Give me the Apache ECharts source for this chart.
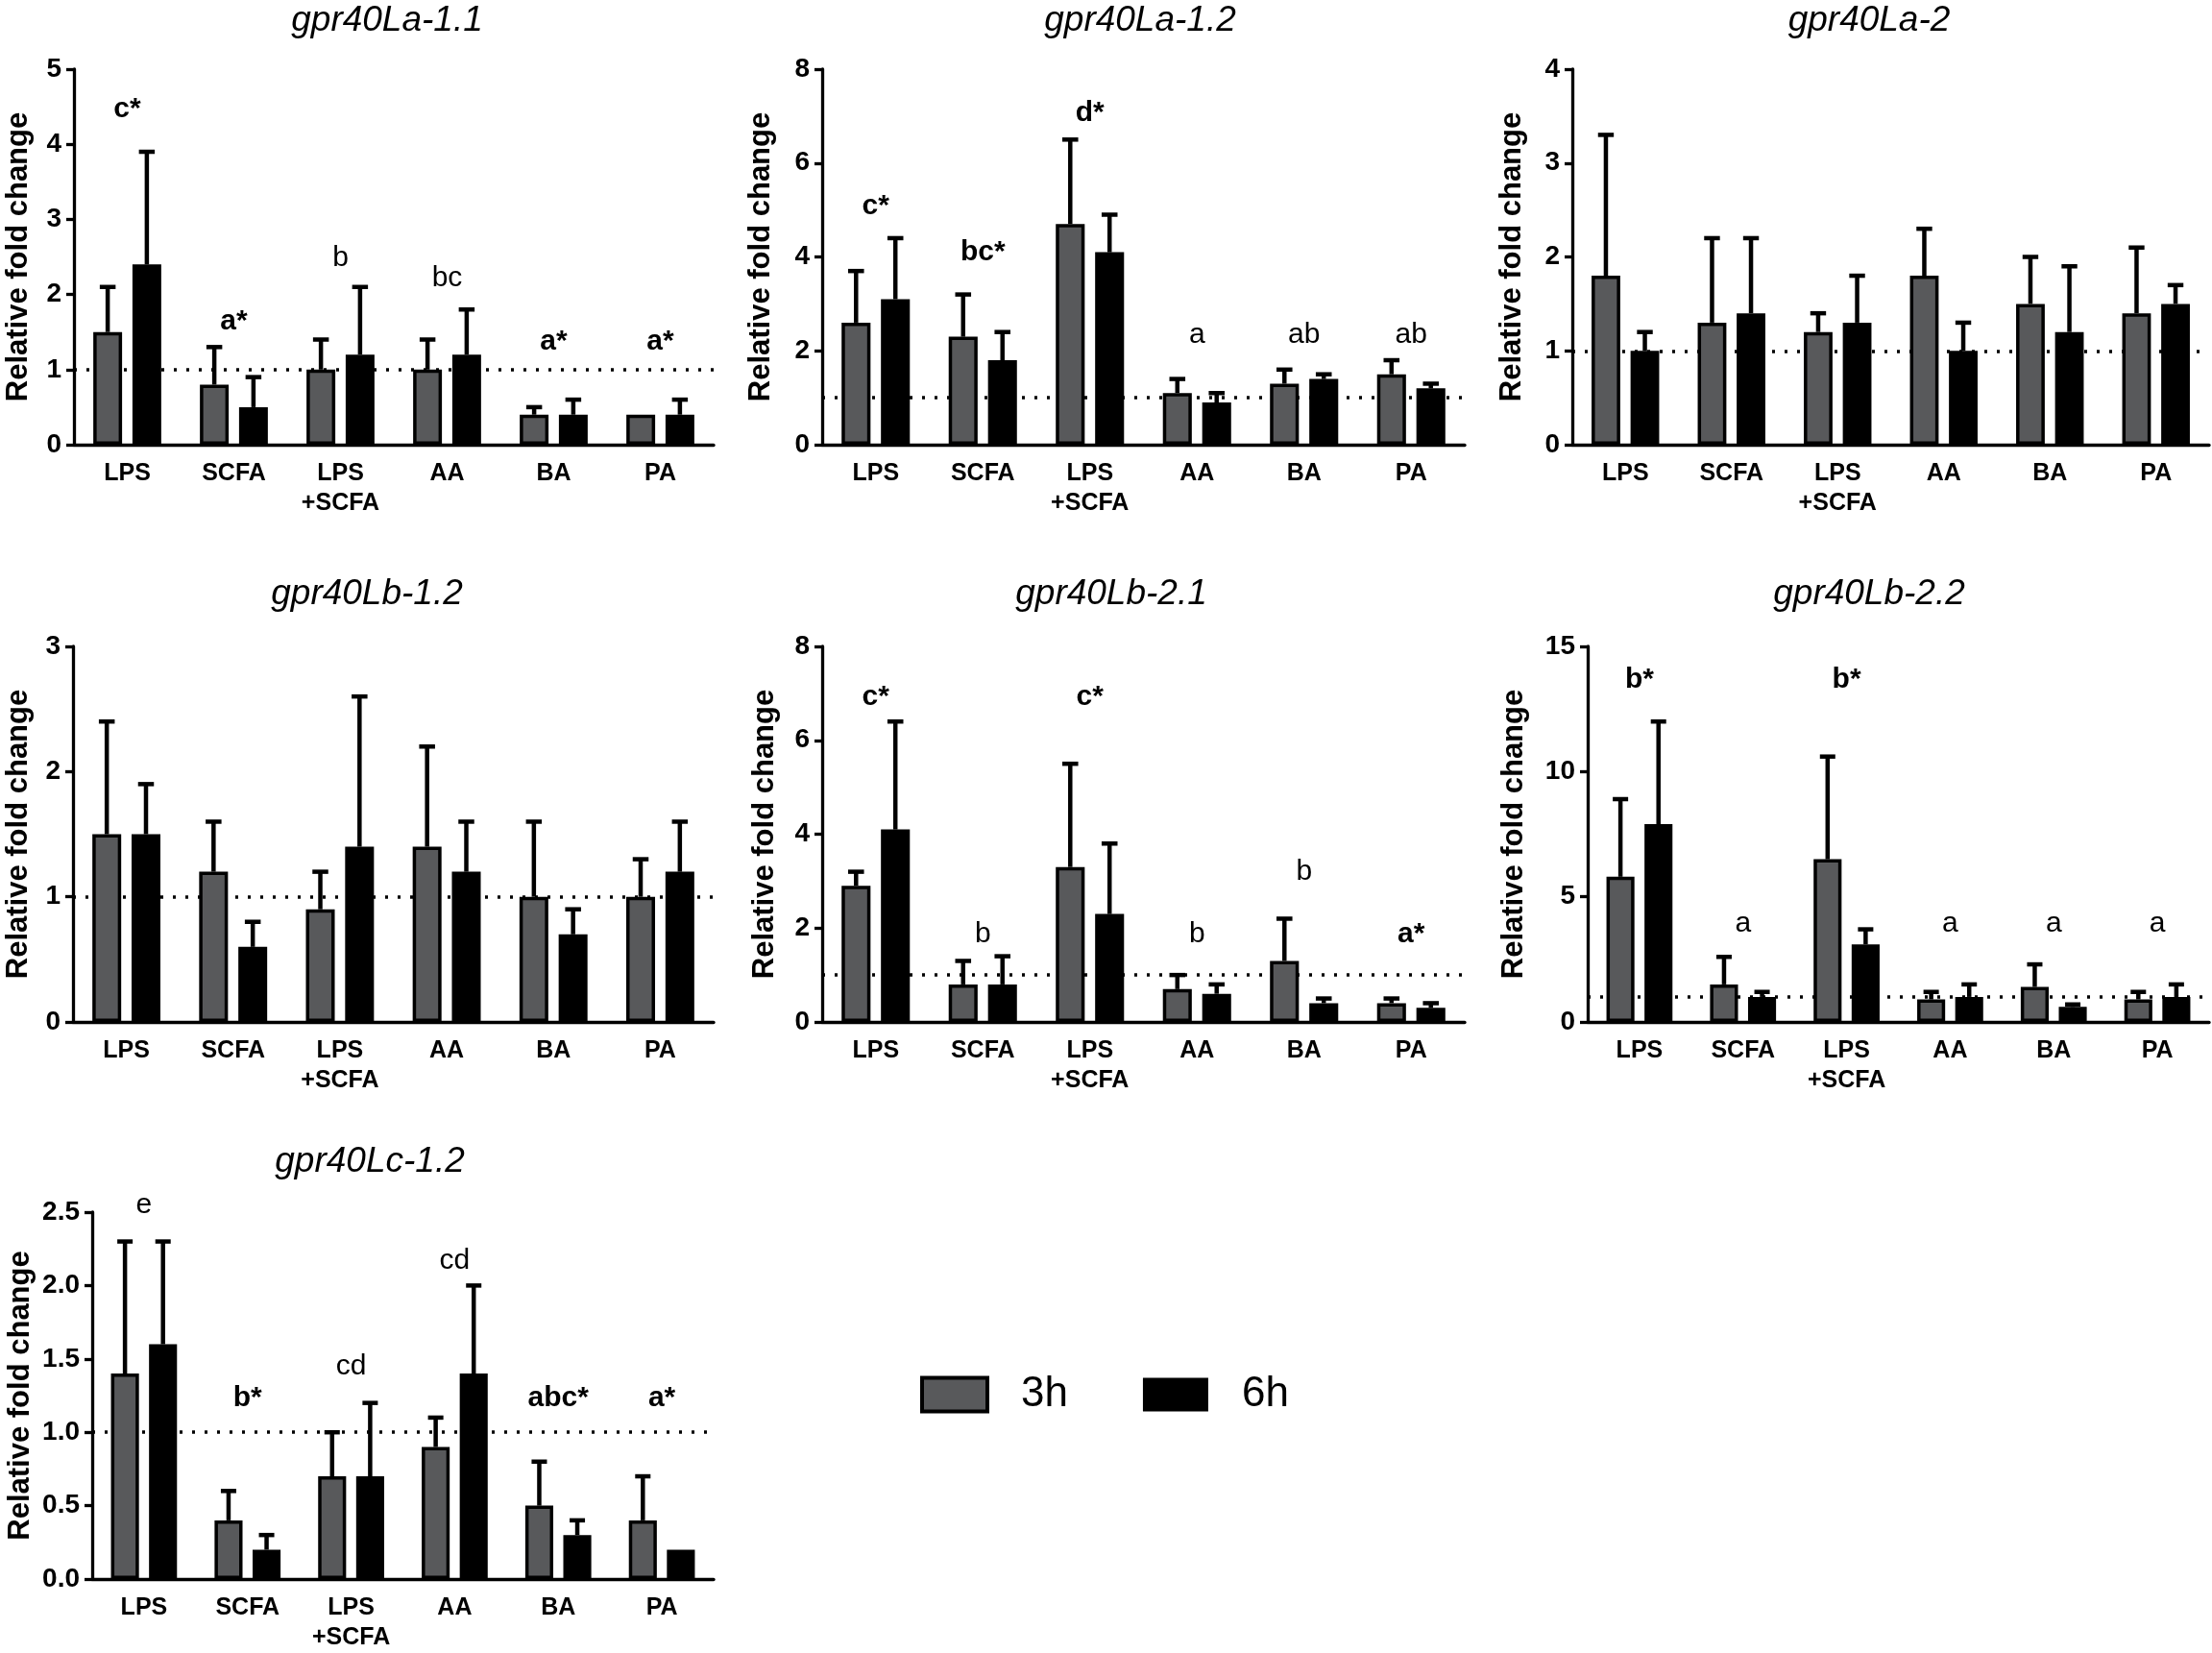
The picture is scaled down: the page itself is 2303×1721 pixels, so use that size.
<!DOCTYPE html>
<html>
<head>
<meta charset="utf-8">
<script src="https://cdn.jsdelivr.net/npm/echarts@6/dist/echarts.min.js"></script>
<style>html,body{margin:0;padding:0;background:#fff}#c{width:2303px;height:1721px}</style>
</head>
<body>
<div id="c"></div>
<script>
// ---------- DATA ----------
const categories = ['LPS', 'SCFA', 'LPS\n+SCFA', 'AA', 'BA', 'PA'];
const seriesNames = ['3h', '6h'];
const panelTitles = ['gpr40La-1.1', 'gpr40La-1.2', 'gpr40La-2', 'gpr40Lb-1.2', 'gpr40Lb-2.1', 'gpr40Lb-2.2', 'gpr40Lc-1.2'];
const yMax = [5, 8, 4, 3, 8, 15, 2.5];
const yStep = [1, 2, 1, 1, 2, 5, 0.5];
const yDecimals = [0, 0, 0, 0, 0, 0, 1];
const referenceLevel = 1;

// gpr40La-1.1
const la11_3h = [1.5, 0.8, 1.0, 1.0, 0.4, 0.4];
const la11_3hErr = [0.6, 0.5, 0.4, 0.4, 0.1, 0];
const la11_6h = [2.4, 0.5, 1.2, 1.2, 0.4, 0.4];
const la11_6hErr = [1.5, 0.4, 0.9, 0.6, 0.2, 0.2];
const la11_letters = ['c*', 'a*', 'b', 'bc', 'a*', 'a*'];
const la11_letterAt = [4.47, 1.64, 2.49, 2.22, 1.37, 1.37];

// gpr40La-1.2
const la12_3h = [2.6, 2.3, 4.7, 1.1, 1.3, 1.5];
const la12_3hErr = [1.1, 0.9, 1.8, 0.3, 0.3, 0.3];
const la12_6h = [3.1, 1.8, 4.1, 0.9, 1.4, 1.2];
const la12_6hErr = [1.3, 0.6, 0.8, 0.2, 0.1, 0.1];
const la12_letters = ['c*', 'bc*', 'd*', 'a', 'ab', 'ab'];
const la12_letterAt = [5.08, 4.1, 7.06, 2.34, 2.34, 2.34];

// gpr40La-2
const la2_3h = [1.8, 1.3, 1.2, 1.8, 1.5, 1.4];
const la2_3hErr = [1.5, 0.9, 0.2, 0.5, 0.5, 0.7];
const la2_6h = [1.0, 1.4, 1.3, 1.0, 1.2, 1.5];
const la2_6hErr = [0.2, 0.8, 0.5, 0.3, 0.7, 0.2];
const la2_letters = [];
const la2_letterAt = [];

// gpr40Lb-1.2
const lb12_3h = [1.5, 1.2, 0.9, 1.4, 1.0, 1.0];
const lb12_3hErr = [0.9, 0.4, 0.3, 0.8, 0.6, 0.3];
const lb12_6h = [1.5, 0.6, 1.4, 1.2, 0.7, 1.2];
const lb12_6hErr = [0.4, 0.2, 1.2, 0.4, 0.2, 0.4];
const lb12_letters = [];
const lb12_letterAt = [];

// gpr40Lb-2.1
const lb21_3h = [2.9, 0.8, 3.3, 0.7, 1.3, 0.4];
const lb21_3hErr = [0.3, 0.5, 2.2, 0.3, 0.9, 0.1];
const lb21_6h = [4.1, 0.8, 2.3, 0.6, 0.4, 0.3];
const lb21_6hErr = [2.3, 0.6, 1.5, 0.2, 0.1, 0.1];
const lb21_letters = ['c*', 'b', 'c*', 'b', 'b', 'a*'];
const lb21_letterAt = [6.92, 1.87, 6.92, 1.87, 3.19, 1.87];

// gpr40Lb-2.2
const lb22_3h = [5.8, 1.5, 6.5, 0.9, 1.4, 0.9];
const lb22_3hErr = [3.1, 1.1, 4.1, 0.3, 0.9, 0.3];
const lb22_6h = [7.9, 1.0, 3.1, 1.0, 0.6, 1.0];
const lb22_6hErr = [4.1, 0.2, 0.6, 0.5, 0.1, 0.5];
const lb22_letters = ['b*', 'a', 'b*', 'a', 'a', 'a'];
const lb22_letterAt = [13.67, 3.94, 13.67, 3.94, 3.94, 3.94];

// gpr40Lc-1.2
const lc12_3h = [1.4, 0.4, 0.7, 0.9, 0.5, 0.4];
const lc12_3hErr = [0.9, 0.2, 0.3, 0.2, 0.3, 0.3];
const lc12_6h = [1.6, 0.2, 0.7, 1.4, 0.3, 0.2];
const lc12_6hErr = [0.7, 0.1, 0.5, 0.6, 0.1, 0];
const lc12_letters = ['e', 'b*', 'cd', 'cd', 'abc*', 'a*'];
const lc12_letterAt = [2.55, 1.23, 1.45, 2.17, 1.23, 1.23];

const panels = [
  [la11_3h, la11_3hErr, la11_6h, la11_6hErr, la11_letters, la11_letterAt],
  [la12_3h, la12_3hErr, la12_6h, la12_6hErr, la12_letters, la12_letterAt],
  [la2_3h, la2_3hErr, la2_6h, la2_6hErr, la2_letters, la2_letterAt],
  [lb12_3h, lb12_3hErr, lb12_6h, lb12_6hErr, lb12_letters, lb12_letterAt],
  [lb21_3h, lb21_3hErr, lb21_6h, lb21_6hErr, lb21_letters, lb21_letterAt],
  [lb22_3h, lb22_3hErr, lb22_6h, lb22_6hErr, lb22_letters, lb22_letterAt],
  [lc12_3h, lc12_3hErr, lc12_6h, lc12_6hErr, lc12_letters, lc12_letterAt]
];

// ---------- LAYOUT / STYLE ----------
const FONT = "'Liberation Sans', Arial, Helvetica, sans-serif";
const GRAY = '#58595b';
const BAR_FRAC = 0.27, GAP_FRAC = 0.36;
const grids = [
  {left: 77, top: 72, width: 666, height: 391, nameGap: 42, titleX: 403, titleY: 22},
  {left: 856, top: 72, width: 669, height: 391, nameGap: 48, titleX: 1187, titleY: 22},
  {left: 1637, top: 72, width: 663, height: 391, nameGap: 47, titleX: 1946, titleY: 22},
  {left: 76, top: 673, width: 667, height: 391, nameGap: 41, titleX: 382, titleY: 619},
  {left: 856, top: 673, width: 669, height: 391, nameGap: 44, titleX: 1157, titleY: 619},
  {left: 1653, top: 673, width: 647, height: 391, nameGap: 61, titleX: 1946, titleY: 619},
  {left: 96, top: 1262, width: 647, height: 391, nameGap: 59, titleX: 385, titleY: 1210}
];

const option = {
  animation: false,
  backgroundColor: '#fff',
  textStyle: {fontFamily: FONT, color: '#000'},
  legend: {
    data: [
      {name: '3h', itemStyle: {color: GRAY, borderColor: '#000', borderWidth: 4}},
      {name: '6h', itemStyle: {color: '#000', borderColor: '#000', borderWidth: 0}}
    ],
    left: 958, top: 1430, padding: 0,
    icon: 'rect', itemWidth: 68, itemHeight: 35, itemGap: 78,
    selectedMode: false,
    textStyle: {fontSize: 44, fontFamily: FONT, color: '#000', padding: [0, 0, 0, 30]}
  },
  grid: [], xAxis: [], yAxis: [], series: [], graphic: []
};

grids.forEach((g, gi) => {
  option.grid.push({left: g.left, top: g.top, width: g.width, height: g.height, containLabel: false});
  option.xAxis.push({
    type: 'category', gridIndex: gi, data: categories,
    axisLine: {lineStyle: {color: '#000', width: 3.3}},
    axisTick: {alignWithLabel: true, length: 10, lineStyle: {color: '#000', width: 3.3}},
    axisLabel: {fontSize: 25, fontWeight: 'bold', color: '#000', fontFamily: FONT, margin: 15, lineHeight: 31, interval: 0}
  });
  option.yAxis.push({
    type: 'value', gridIndex: gi, min: 0, max: yMax[gi], interval: yStep[gi],
    name: 'Relative fold change', nameLocation: 'middle', nameGap: g.nameGap,
    nameTextStyle: {fontSize: 31, fontWeight: 'bold', color: '#000', fontFamily: FONT},
    axisLine: {show: true, lineStyle: {color: '#000', width: 3.3}},
    axisTick: {show: true, length: 8, lineStyle: {color: '#000', width: 3.3}},
    splitLine: {show: false},
    axisLabel: {fontSize: 28, fontWeight: 'bold', color: '#000', fontFamily: FONT, margin: 13,
      formatter: v => v.toFixed(yDecimals[gi])}
  });
  option.graphic.push({
    type: 'text', x: g.titleX, y: g.titleY,
    style: {text: panelTitles[gi], fontSize: 37, fontStyle: 'italic', fontFamily: FONT, fill: '#000',
      textAlign: 'center', textVerticalAlign: 'middle'}
  });

  const [m3, e3, m6, e6, letters, letterAt] = panels[gi];
  option.series.push({
    name: seriesNames[0], type: 'bar', xAxisIndex: gi, yAxisIndex: gi, data: m3,
    barWidth: (BAR_FRAC * 100) + '%', barGap: (GAP_FRAC * 100) + '%', z: 2,
    itemStyle: {color: GRAY, borderColor: '#000', borderWidth: 3.5},
    markLine: {
      silent: true, symbol: 'none', z: 1, label: {show: false},
      lineStyle: {type: [3, 10], color: '#000', width: 3.5},
      data: [{yAxis: referenceLevel}]
    }
  });
  option.series.push({
    name: seriesNames[1], type: 'bar', xAxisIndex: gi, yAxisIndex: gi, data: m6,
    barWidth: (BAR_FRAC * 100) + '%', barGap: (GAP_FRAC * 100) + '%', z: 2,
    itemStyle: {color: '#000', borderColor: '#000', borderWidth: 3.5}
  });
  [[m3, e3, -1], [m6, e6, 1]].forEach(([m, e, side]) => {
    option.series.push({
      type: 'custom', xAxisIndex: gi, yAxisIndex: gi, z: 3, silent: true,
      data: m.map((v, i) => [i, v, e[i]]),
      encode: {x: 0, y: 1},
      renderItem: (params, api) => {
        const i = api.value(0), v = api.value(1), err = api.value(2);
        if (!err) return {type: 'group', children: []};
        const band = api.size([1, 0])[0];
        const bw = band * BAR_FRAC;
        const off = side * bw * (1 + GAP_FRAC) / 2;
        const p0 = api.coord([i, v]);
        const p1 = api.coord([i, v + err]);
        const x = p0[0] + off;
        const cap = bw * 0.55;
        const st = {stroke: '#000', lineWidth: 4.5};
        return {type: 'group', children: [
          {type: 'line', shape: {x1: x, y1: p0[1], x2: x, y2: p1[1]}, style: st},
          {type: 'line', shape: {x1: x - cap / 2, y1: p1[1], x2: x + cap / 2, y2: p1[1]}, style: st}
        ]};
      }
    });
  });
  if (letters.length) {
    option.series.push({
      type: 'custom', xAxisIndex: gi, yAxisIndex: gi, z: 4, silent: true,
      data: letters.map((t, i) => [i, letterAt[i], t]),
      encode: {x: 0, y: 1},
      renderItem: (params, api) => {
        const i = api.value(0), y = api.value(1);
        const t = letters[i];
        const p = api.coord([i, y]);
        return {type: 'text', x: p[0], y: p[1],
          style: {text: t, fontSize: 30, fontWeight: t.indexOf('*') >= 0 ? 'bold' : 'normal',
            fontFamily: FONT, fill: '#000', textAlign: 'center', textVerticalAlign: 'middle'}};
      }
    });
  }
});

const chart = echarts.init(document.getElementById('c'));
chart.setOption(option);
</script>
</body>
</html>
